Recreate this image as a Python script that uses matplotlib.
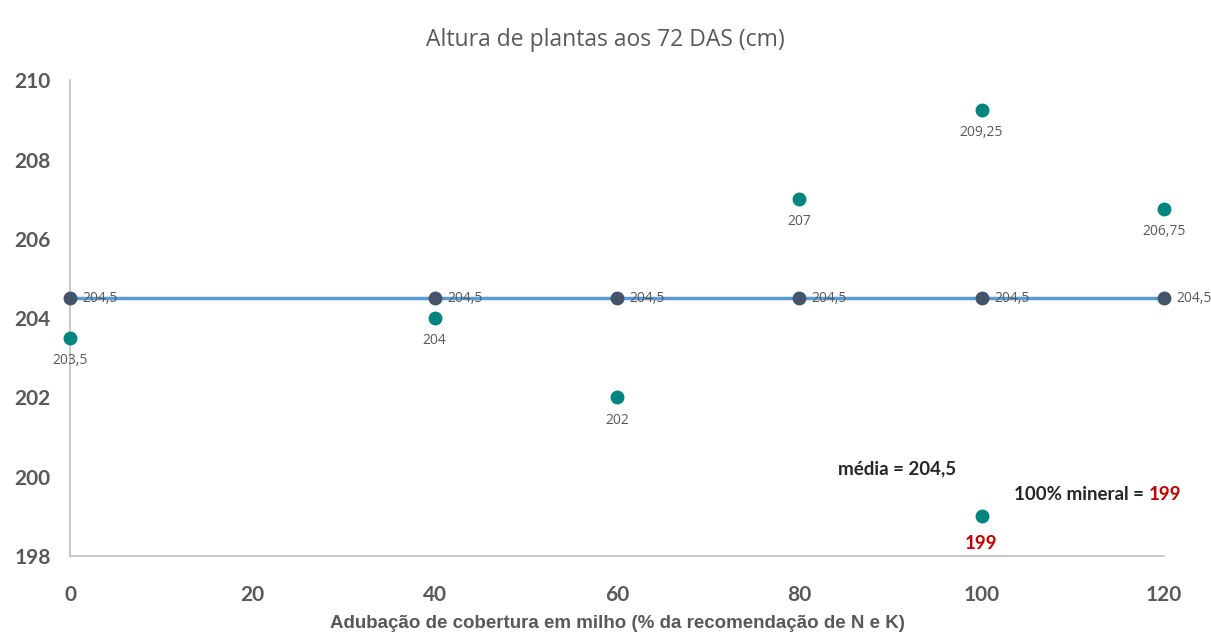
import matplotlib.pyplot as plt

# dados
doses = [0, 40, 60, 80, 100, 120]
altura = [203.5, 204, 202, 207, 209.25, 206.75]
rotulos_altura = ["203,5", "204", "202", "207", "209,25", "206,75"]
media = 204.5
rotulo_media = "204,5"
mineral_x = 100
mineral_y = 199
rotulo_mineral = "199"
xticks = [0, 20, 40, 60, 80, 100, 120]
yticks = [198, 200, 202, 204, 206, 208, 210]

teal = "#00847E"
navy = "#44546A"
azul = "#5B9BD5"
cinza = "#595959"
vermelho = "#C00000"

fig = plt.figure(figsize=(12.11, 6.37), dpi=100)
ax = fig.add_axes([0.058, 0.127, 0.903, 0.747])

ax.plot(doses, [media] * len(doses), color=azul, lw=2.5, zorder=2)
ax.plot(doses, [media] * len(doses), "o", color=navy, ms=9, zorder=3, clip_on=False)
for x in doses:
    ax.annotate(rotulo_media, (x, media), xytext=(9, 0), textcoords="offset points",
                ha="left", va="center", fontsize=10, color=cinza, family="Open Sans",
                annotation_clip=False)

ax.plot(doses, altura, "o", color=teal, ms=9, zorder=3, clip_on=False)
for x, y, t in zip(doses, altura, rotulos_altura):
    ax.annotate(t, (x, y), xytext=(0, -11), textcoords="offset points",
                ha="center", va="top", fontsize=10, color=cinza, family="Open Sans")

ax.plot([mineral_x], [mineral_y], "o", color=teal, ms=9, zorder=3)
ax.annotate(rotulo_mineral, (mineral_x, mineral_y), xytext=(0, -13), textcoords="offset points",
            ha="center", va="top", fontsize=13.5, color=vermelho, fontweight="bold", family="Lato")

ax.text(84.3, 200.2, "média = 204,5", fontsize=13.5, fontweight="bold", color="#262626",
        family="Lato", va="center", ha="left")
t1 = ax.text(103.6, 199.55, "100% mineral = ", fontsize=13.5, fontweight="bold", color="#262626",
             family="Lato", va="center", ha="left")
ax.annotate("199", xycoords=t1, xy=(1, 0.5), va="center", ha="left", fontsize=13.5,
            fontweight="bold", color=vermelho, family="Lato")

ax.set_xlim(0, 120)
ax.set_ylim(198, 210)
ax.set_xticks(xticks)
ax.set_yticks(yticks)
ax.set_xticklabels([str(v) for v in xticks], fontsize=15, fontweight="bold", color=cinza, family="Lato")
ax.set_yticklabels([str(v) for v in yticks], fontsize=15, fontweight="bold", color=cinza, family="Lato")
ax.tick_params(length=0, pad=14)
ax.tick_params(axis="x", pad=21)

for s in ["top", "right"]:
    ax.spines[s].set_visible(False)
for s in ["left", "bottom"]:
    ax.spines[s].set_color("#BFBFBF")
    ax.spines[s].set_linewidth(1.2)

ax.set_xlabel("Adubação de cobertura em milho (% da recomendação de N e K)", fontsize=13.5,
              fontweight="bold", color=cinza, family="Liberation Sans", labelpad=7)
fig.text(0.5, 0.937, "Altura de plantas aos 72 DAS (cm)", ha="center", va="center",
         fontsize=16.5, color=cinza, family="Open Sans")

fig.savefig("out.png", dpi=100, facecolor="white")
